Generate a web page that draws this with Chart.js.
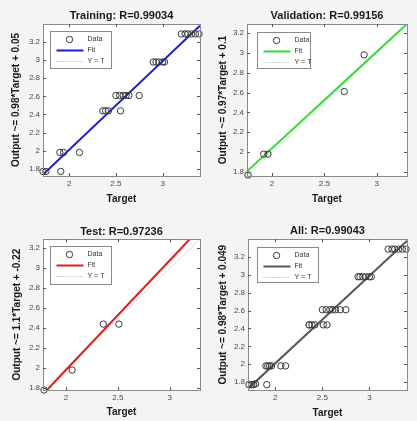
<!DOCTYPE html>
<html>
<head>
<meta charset="utf-8">
<script src="https://cdn.jsdelivr.net/npm/chart.js@4.4.0/dist/chart.umd.min.js"></script>
<style>
  html, body { margin: 0; padding: 0; background: #f4f4f4; overflow: hidden; }
  .panel { position: absolute; }
</style>
</head>
<body>
<div class="panel" style="left:0;top:0;width:207px;height:210px"><canvas id="cTrain"></canvas></div>
<div class="panel" style="left:207px;top:0;width:210px;height:210px"><canvas id="cVal"></canvas></div>
<div class="panel" style="left:0;top:215px;width:207px;height:206px"><canvas id="cTest"></canvas></div>
<div class="panel" style="left:207px;top:215px;width:210px;height:206px"><canvas id="cAll"></canvas></div>
<script>
// ---- data ----
const trainTarget = [3.20, 3.24, 3.27, 3.31, 3.35, 3.39, 2.90, 2.93, 2.96, 3.00, 3.02,
  2.50, 2.54, 2.58, 2.61, 2.64, 2.75, 2.36, 2.39, 2.42, 2.55, 1.90, 1.94, 2.11, 1.72, 1.75, 1.91];
const trainOutput = [3.29, 3.29, 3.29, 3.29, 3.29, 3.29, 2.98, 2.98, 2.98, 2.98, 2.98,
  2.61, 2.61, 2.61, 2.61, 2.61, 2.61, 2.44, 2.44, 2.44, 2.44, 1.98, 1.98, 1.98, 1.77, 1.77, 1.77];

const valTarget = [1.77, 1.92, 1.96, 2.69, 2.88];
const valOutput = [1.77, 1.98, 1.98, 2.61, 2.98];

const testTarget = [1.79, 2.06, 2.36, 2.51];
const testOutput = [1.78, 1.98, 2.44, 2.44];

// axis limits [min, max] (same for x and y) and fit line y at those limits
const trainRange = [1.72, 3.40];
const valRange = [1.76, 3.29];
const testRange = [1.78, 3.29];
const allRange = [1.71, 3.40];

const trainFit = [1.736, 3.382];
const valFit = [1.807, 3.291];
const testFit = [1.738, 3.399];
const allFit = [1.725, 3.381];

const xTicks = [2, 2.5, 3];
const yTicks = [1.8, 2, 2.2, 2.4, 2.6, 2.8, 3, 3.2];

const FONT = "'Liberation Sans', Arial, sans-serif";

// white axes, box outline, inward tick marks, legend inside the axes
const matlabAxes = {
  id: 'matlabAxes',
  beforeDatasetsDraw(chart) {
    const { ctx, chartArea: a } = chart;
    ctx.save();
    ctx.fillStyle = '#ffffff';
    ctx.fillRect(a.left, a.top, a.right - a.left, a.bottom - a.top);
    ctx.restore();
  },
  afterDraw(chart, args, opts) {
    const { ctx, chartArea: a, scales } = chart;
    ctx.save();
    ctx.strokeStyle = '#8a8a8a';
    ctx.lineWidth = 1;
    ctx.strokeRect(Math.round(a.left) + 0.5, Math.round(a.top) + 0.5,
      Math.round(a.right - a.left), Math.round(a.bottom - a.top));
    ctx.strokeStyle = '#555';
    ctx.beginPath();
    scales.x.ticks.forEach(t => {
      const px = Math.round(scales.x.getPixelForValue(t.value)) + 0.5;
      ctx.moveTo(px, a.bottom); ctx.lineTo(px, a.bottom - 3);
      ctx.moveTo(px, a.top); ctx.lineTo(px, a.top + 3);
    });
    scales.y.ticks.forEach(t => {
      const py = Math.round(scales.y.getPixelForValue(t.value)) + 0.5;
      ctx.moveTo(a.left, py); ctx.lineTo(a.left + 3, py);
      ctx.moveTo(a.right, py); ctx.lineTo(a.right - 3, py);
    });
    ctx.stroke();

    // legend box
    const x = Math.round(a.left + opts.dx) + 0.5, y = Math.round(a.top + opts.dy) + 0.5;
    ctx.fillStyle = '#ffffff';
    ctx.strokeStyle = '#8a8a8a';
    ctx.fillRect(x, y, opts.w, opts.h);
    ctx.strokeRect(x, y, opts.w, opts.h);
    ctx.font = '7px ' + FONT;
    ctx.textBaseline = 'middle';
    chart.data.datasets.forEach((d, i) => {
      const ry = y + 8 + i * 11;
      ctx.save();
      if (d.showLine) {
        ctx.strokeStyle = d.borderColor;
        ctx.lineWidth = d.borderWidth;
        ctx.setLineDash(d.borderDash || []);
        ctx.beginPath();
        ctx.moveTo(x + 6, ry); ctx.lineTo(x + 33, ry);
        ctx.stroke();
      } else {
        ctx.strokeStyle = d.borderColor;
        ctx.lineWidth = d.borderWidth;
        ctx.beginPath();
        ctx.arc(x + 19, ry, d.pointRadius, 0, Math.PI * 2);
        ctx.stroke();
      }
      ctx.restore();
      ctx.fillStyle = '#333';
      ctx.fillText(d.label, x + 37, ry);
    });
    ctx.restore();
  }
};

function makePanel(p) {
  const [lo, hi] = p.range;
  const points = p.target.map((t, i) => ({ x: t, y: p.output[i] }));
  return new Chart(document.getElementById(p.canvas), {
    type: 'scatter',
    data: {
      datasets: [
        {
          label: 'Data',
          data: points,
          showLine: false,
          pointStyle: 'circle',
          pointRadius: 3.2,
          borderColor: '#3a3a3a',
          backgroundColor: 'rgba(0,0,0,0)',
          borderWidth: 1,
          clip: 5
        },
        {
          label: 'Fit',
          data: [{ x: lo, y: p.fit[0] }, { x: hi, y: p.fit[1] }],
          showLine: true,
          pointRadius: 0,
          borderColor: p.color,
          borderWidth: 2,
          clip: 0
        },
        {
          label: 'Y = T',
          data: [{ x: lo, y: lo }, { x: hi, y: hi }],
          showLine: true,
          pointRadius: 0,
          borderColor: '#9a9a9a',
          borderWidth: 1,
          borderDash: [1, 2],
          clip: 0
        }
      ]
    },
    options: {
      responsive: true,
      maintainAspectRatio: false,
      animation: false,
      layout: { padding: { left: 0, top: 0, right: p.padR, bottom: 0 } },
      plugins: {
        legend: { display: false },
        tooltip: { enabled: false },
        title: {
          display: true,
          text: p.title,
          fullSize: false,
          color: '#1a1a1a',
          font: { family: FONT, size: 11, weight: 'bold' },
          padding: p.titlePad
        },
        matlabAxes: p.legend
      },
      scales: {
        x: {
          type: 'linear',
          min: lo,
          max: hi,
          afterBuildTicks: s => { s.ticks = xTicks.map(v => ({ value: v })); },
          afterFit: s => { s.height = p.xH; },
          grid: { display: false, drawTicks: false },
          border: { display: false },
          ticks: { color: '#4a4a4a', padding: 3, font: { family: FONT, size: 8 }, callback: v => String(v) },
          title: {
            display: true,
            text: 'Target',
            color: '#1a1a1a',
            font: { family: FONT, size: 10, weight: 'bold' },
            padding: { top: 0, bottom: p.xTitlePad }
          }
        },
        y: {
          type: 'linear',
          min: lo,
          max: hi,
          afterBuildTicks: s => { s.ticks = yTicks.map(v => ({ value: v })); },
          afterFit: s => { s.width = p.yW; },
          grid: { display: false, drawTicks: false },
          border: { display: false },
          ticks: { color: '#4a4a4a', padding: 3, font: { family: FONT, size: 8 }, callback: v => String(v) },
          title: {
            display: true,
            text: p.ylabel,
            color: '#1a1a1a',
            font: { family: FONT, size: 10, weight: 'bold' },
            padding: { top: p.yTitleX - 6, bottom: 0 }
          }
        }
      }
    },
    plugins: [matlabAxes]
  });
}

makePanel({
  canvas: 'cTrain', title: 'Training: R=0.99034', ylabel: 'Output ~= 0.98*Target + 0.05',
  color: '#1a1ad6', target: trainTarget, output: trainOutput, range: trainRange, fit: trainFit,
  yW: 43, xH: 34, padR: 7, titlePad: { top: 9.4, bottom: 1.4 }, xTitlePad: 4.7, yTitleX: 16,
  legend: { dx: 7, dy: 7, w: 61, h: 37 }
});
makePanel({
  canvas: 'cVal', title: 'Validation: R=0.99156', ylabel: 'Output ~= 0.97*Target + 0.1',
  color: '#2ee02e', target: valTarget, output: valOutput, range: valRange, fit: valFit,
  yW: 40, xH: 34, padR: 10, titlePad: { top: 9.4, bottom: 1.4 }, xTitlePad: 4.7, yTitleX: 16,
  legend: { dx: 9.5, dy: 8, w: 53, h: 36 }
});
makePanel({
  canvas: 'cTest', title: 'Test: R=0.97236', ylabel: 'Output ~= 1.1*Target + -0.22',
  color: '#e01a1a', target: testTarget, output: testOutput, range: testRange, fit: testFit,
  yW: 43, xH: 31, padR: 7, titlePad: { top: 10.1, bottom: 1.0 }, xTitlePad: 2.3, yTitleX: 17,
  legend: { dx: 7, dy: 7, w: 61, h: 38 }
});
makePanel({
  canvas: 'cAll', title: 'All: R=0.99043', ylabel: 'Output ~= 0.98*Target + 0.049',
  color: '#555555', target: trainTarget.concat(valTarget, testTarget),
  output: trainOutput.concat(valOutput, testOutput), range: allRange, fit: allFit,
  yW: 41, xH: 31, padR: 10, titlePad: { top: 9.4, bottom: 1.7 }, xTitlePad: 1.7, yTitleX: 16,
  legend: { dx: 9, dy: 8, w: 61, h: 35 }
});
</script>
</body>
</html>
